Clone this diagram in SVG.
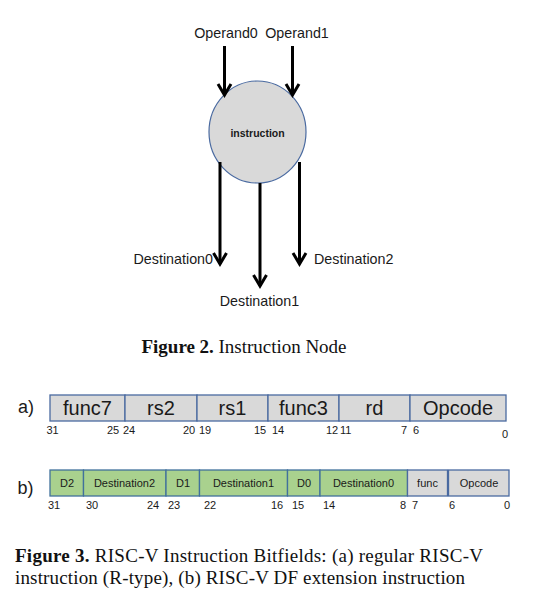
<svg xmlns="http://www.w3.org/2000/svg" width="557" height="610" viewBox="0 0 557 610">
<style>
.lbl{font-family:"Liberation Sans",Arial,sans-serif;fill:#1a1a1a}
.n14{font-size:14.3px}
.f20{font-size:20px;text-anchor:middle}
.f11{font-size:11px;text-anchor:middle}
.num{font-family:"Liberation Sans",Arial,sans-serif;font-size:11px;fill:#1a1a1a}
.cap{font-family:"Liberation Serif","Times New Roman",serif;font-size:19px;fill:#111}
.gray{fill:#d9d9d9;stroke:#4a6aa0;stroke-width:1.3}
.green{fill:#a9d18e;stroke:#41719c;stroke-width:1.3}
.conn{stroke:#000;stroke-width:3;fill:none}
</style>
<defs>
<marker id="arr" markerUnits="userSpaceOnUse" orient="auto" overflow="visible" refX="0" refY="0" markerWidth="1" markerHeight="1">
<path d="M-11,-6.5 L0,0 L-11,6.5" fill="none" stroke="#000" stroke-width="3"/>
</marker>
</defs>
<rect width="557" height="610" fill="#fff"/>

<g id="instruction">
<ellipse cx="257.5" cy="132" rx="48.5" ry="51" fill="#d9d9d9" stroke="#4a6aa0" stroke-width="1.2"/>
<text class="lbl" x="257.5" y="136.5" font-size="10.5" font-weight="bold" text-anchor="middle">instruction</text>
</g>
<g id="operand0"><text class="lbl n14" x="226" y="38" text-anchor="middle">Operand0</text></g>
<g id="operand1"><text class="lbl n14" x="297" y="38" text-anchor="middle">Operand1</text></g>
<g id="destination0"><text class="lbl n14" x="213" y="264" text-anchor="end">Destination0</text></g>
<g id="destination1"><text class="lbl n14" x="259.5" y="306" text-anchor="middle">Destination1</text></g>
<g id="destination2"><text class="lbl n14" x="314" y="264">Destination2</text></g>

<g id="connectors">
<line class="conn" x1="224.5" y1="46" x2="224.5" y2="95" marker-end="url(#arr)"/>
<line class="conn" x1="292.5" y1="46" x2="292.5" y2="95" marker-end="url(#arr)"/>
<line class="conn" x1="220" y1="162" x2="220" y2="264" marker-end="url(#arr)"/>
<line class="conn" x1="260" y1="183" x2="260" y2="286" marker-end="url(#arr)"/>
<line class="conn" x1="299.5" y1="162" x2="299.5" y2="264" marker-end="url(#arr)"/>
</g>

<text class="cap" x="141.5" y="352.5" textLength="205" lengthAdjust="spacing"><tspan font-weight="bold">Figure 2.</tspan> Instruction Node</text>

<g id="row-a">
<text class="lbl" x="18" y="413" font-size="18">a)</text>
<g id="a-func7"><rect class="gray" x="50" y="395" width="75" height="26"/><text class="lbl f20" x="87.5" y="415">func7</text></g>
<g id="a-rs2"><rect class="gray" x="125" y="395" width="72" height="26"/><text class="lbl f20" x="161" y="415">rs2</text></g>
<g id="a-rs1"><rect class="gray" x="197" y="395" width="71" height="26"/><text class="lbl f20" x="232.5" y="415">rs1</text></g>
<g id="a-func3"><rect class="gray" x="268" y="395" width="71" height="26"/><text class="lbl f20" x="303.5" y="415">func3</text></g>
<g id="a-rd"><rect class="gray" x="339" y="395" width="71" height="26"/><text class="lbl f20" x="374.5" y="415">rd</text></g>
<g id="a-opcode"><rect class="gray" x="410" y="395" width="96" height="26"/><text class="lbl f20" x="458" y="415">Opcode</text></g>
<g class="num">
<text x="46.5" y="433.5">31</text><text x="107" y="433.5">25</text><text x="123" y="433.5">24</text>
<text x="183" y="433.5">20</text><text x="199" y="433.5">19</text><text x="254" y="433.5">15</text>
<text x="272" y="433.5">14</text><text x="326" y="433.5">12</text><text x="340" y="433.5">11</text>
<text x="401" y="433.5">7</text><text x="413" y="433.5">6</text><text x="502" y="438">0</text>
</g>
</g>

<g id="row-b">
<text class="lbl" x="17.5" y="494" font-size="18">b)</text>
<g id="b-d2"><rect class="green" x="50" y="470" width="33.5" height="26"/><text class="lbl f11" x="67" y="487">D2</text></g>
<g id="b-dest2"><rect class="green" x="83.5" y="470" width="82.5" height="26"/><text class="lbl f11" x="124.5" y="487">Destination2</text></g>
<g id="b-d1"><rect class="green" x="166" y="470" width="33.5" height="26"/><text class="lbl f11" x="183" y="487">D1</text></g>
<g id="b-dest1"><rect class="green" x="199.5" y="470" width="88" height="26"/><text class="lbl f11" x="243.5" y="487">Destination1</text></g>
<g id="b-d0"><rect class="green" x="287.5" y="470" width="32.5" height="26"/><text class="lbl f11" x="304" y="487">D0</text></g>
<g id="b-dest0"><rect class="green" x="320" y="470" width="87.5" height="26"/><text class="lbl f11" x="363.5" y="487">Destination0</text></g>
<g id="b-func"><rect class="gray" x="407.5" y="470" width="40" height="26"/><text class="lbl f11" x="427.5" y="487">func</text></g>
<g id="b-opcode"><rect class="gray" x="448.5" y="470" width="60.5" height="26"/><text class="lbl f11" x="479" y="487">Opcode</text></g>
<g class="num">
<text x="48" y="509">31</text><text x="86" y="509">30</text><text x="147" y="509">24</text>
<text x="168" y="509">23</text><text x="204" y="509">22</text><text x="271" y="509">16</text>
<text x="292" y="509">15</text><text x="323" y="509">14</text><text x="400" y="509">8</text>
<text x="412" y="509">7</text><text x="449" y="509">6</text><text x="504" y="509">0</text>
</g>
</g>

<text class="cap" x="15" y="561.5" textLength="468" lengthAdjust="spacing"><tspan font-weight="bold">Figure 3.</tspan> RISC-V Instruction Bitfields: (a) regular RISC-V</text>
<text class="cap" x="15" y="584" textLength="450" lengthAdjust="spacing">instruction (R-type), (b) RISC-V DF extension instruction</text>
</svg>
